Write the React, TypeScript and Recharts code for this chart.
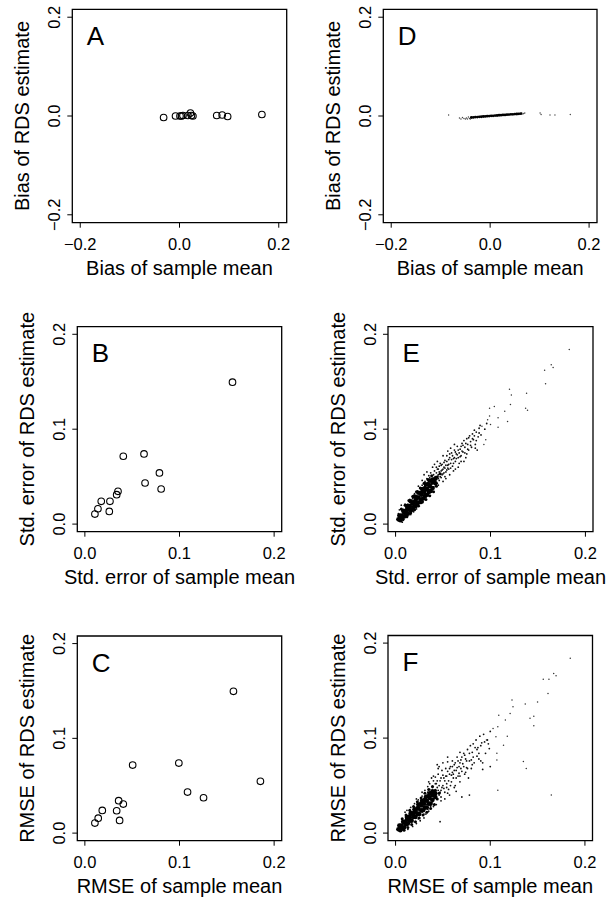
import React from 'react';
import { ScatterChart, Scatter, XAxis, YAxis, ReferenceArea } from 'recharts';

const FONT = "'Liberation Sans', Arial, Helvetica, sans-serif";

// ---------- Panel A: bias (13 networks) ----------
const biasSampleMeanA = [-0.032, -0.008, 0.001, 0.004, 0.007, 0.017, 0.022, 0.024, 0.027, 0.075, 0.086, 0.097, 0.166];
const biasRdsA = [-0.003, 0.0, 0.0, 0.0, 0.001, 0.001, 0.006, 0.001, 0.0, 0.001, 0.002, -0.001, 0.003];

// ---------- Panel B: std. error ----------
const seSampleMeanB = [0.156, 0.0625, 0.0406, 0.0788, 0.0636, 0.0806, 0.035, 0.0336, 0.0265, 0.0173, 0.0258, 0.0138, 0.0106];
const seRdsB = [0.1496, 0.0739, 0.0715, 0.0539, 0.0433, 0.037, 0.0345, 0.031, 0.024, 0.024, 0.0134, 0.0162, 0.0106];

// ---------- Panel C: RMSE ----------
const rmseSampleMeanC = [0.157, 0.0993, 0.0505, 0.1855, 0.1085, 0.1254, 0.0357, 0.0406, 0.0336, 0.0184, 0.0367, 0.0141, 0.0106];
const rmseRdsC = [0.1496, 0.0739, 0.0718, 0.0546, 0.0433, 0.0373, 0.0342, 0.0306, 0.0236, 0.0239, 0.0134, 0.0158, 0.0106];

// ---------- Panel D: bias (many simulated networks) ----------
const dDense: [number, number][] = [
  [-0.038, -0.003], [-0.034, -0.0028], [-0.030, -0.0022], [-0.026, -0.0021], [-0.022, -0.0016], [-0.018, -0.0015],
  [-0.014, -0.001], [-0.010, -0.0009], [-0.006, -0.0004], [-0.002, -0.0002], [0.002, 0.0003], [0.006, 0.0004],
  [0.010, 0.0009], [0.014, 0.001], [0.018, 0.0015], [0.022, 0.0016], [0.026, 0.0021], [0.030, 0.0022],
  [0.034, 0.0027], [0.038, 0.0028], [0.042, 0.0033], [0.046, 0.0034], [0.050, 0.0039], [0.054, 0.004],
  [0.058, 0.0044], [0.062, 0.0047],
];
const dSparse: [number, number][] = [
  [-0.084, 0.002], [-0.062, -0.004], [-0.059, -0.006], [-0.056, -0.003], [-0.053, -0.005], [-0.050, -0.006],
  [-0.048, -0.004], [-0.046, -0.006], [-0.044, -0.002], [-0.042, -0.005], [-0.040, -0.006], [0.064, 0.006],
  [0.066, 0.004], [0.068, 0.005], [0.070, 0.006], [0.101, 0.006], [0.103, 0.003], [0.121, 0.002],
  [0.131, 0.002], [0.162, 0.003],
];

// ---------- Panel E: std. error (many simulated networks) ----------
const eCore: [number, number][] = [
  [0.003, 0.005], [0.006, 0.009], [0.009, 0.012], [0.012, 0.015], [0.015, 0.019], [0.018, 0.022], [0.021, 0.025],
  [0.024, 0.028], [0.027, 0.031], [0.030, 0.034], [0.033, 0.037], [0.036, 0.040], [0.039, 0.044],
  [0.004, 0.009], [0.008, 0.014], [0.012, 0.019], [0.016, 0.024], [0.020, 0.029], [0.024, 0.033], [0.028, 0.037],
  [0.032, 0.042], [0.036, 0.046],
  [0.005, 0.004], [0.009, 0.008], [0.013, 0.011], [0.017, 0.015], [0.021, 0.019], [0.025, 0.023], [0.029, 0.027],
  [0.033, 0.031], [0.037, 0.035],
  [0.005, 0.008], [0.010, 0.013], [0.014, 0.018], [0.019, 0.023], [0.023, 0.028], [0.027, 0.033], [0.031, 0.038],
  [0.035, 0.042], [0.039, 0.047], [0.042, 0.048],
  [0.007, 0.007], [0.011, 0.010], [0.015, 0.015], [0.019, 0.018], [0.023, 0.022], [0.027, 0.026], [0.031, 0.030],
  [0.035, 0.034], [0.039, 0.038], [0.042, 0.043],
];
const eSemi: [number, number][] = [
  [0.006, 0.016], [0.010, 0.020], [0.014, 0.025], [0.018, 0.029], [0.022, 0.034], [0.026, 0.038], [0.030, 0.043],
  [0.034, 0.047], [0.038, 0.051], [0.008, 0.005], [0.012, 0.008], [0.016, 0.012], [0.020, 0.015], [0.024, 0.019],
  [0.028, 0.023], [0.032, 0.026], [0.036, 0.030], [0.040, 0.034], [0.043, 0.040], [0.041, 0.046], [0.044, 0.050],
  [0.047, 0.053],
];
const eMid: [number, number][] = [
  [0.004, 0.015], [0.006, 0.020], [0.003, 0.011], [0.008, 0.004], [0.007, 0.002],
  [0.010, 0.021], [0.012, 0.007], [0.014, 0.024], [0.016, 0.010], [0.018, 0.027], [0.019, 0.013], [0.011, 0.018], [0.015, 0.026],
  [0.020, 0.032], [0.022, 0.016], [0.023, 0.035], [0.025, 0.019], [0.026, 0.038], [0.027, 0.022], [0.028, 0.041],
  [0.029, 0.024], [0.022, 0.030], [0.026, 0.027], [0.030, 0.038],
  [0.031, 0.045], [0.032, 0.028], [0.033, 0.048], [0.034, 0.030], [0.035, 0.051], [0.036, 0.033], [0.037, 0.054],
  [0.038, 0.036], [0.039, 0.048], [0.040, 0.039], [0.031, 0.036], [0.035, 0.043], [0.038, 0.042], [0.033, 0.055],
  [0.041, 0.056], [0.042, 0.040], [0.043, 0.060], [0.044, 0.043], [0.045, 0.052], [0.046, 0.046], [0.047, 0.064],
  [0.048, 0.049], [0.049, 0.057], [0.050, 0.053], [0.042, 0.050], [0.045, 0.058], [0.048, 0.062], [0.044, 0.066], [0.050, 0.045],
  [0.051, 0.060], [0.052, 0.067], [0.053, 0.055], [0.054, 0.072], [0.055, 0.062], [0.056, 0.058], [0.057, 0.070],
  [0.058, 0.064], [0.059, 0.075], [0.060, 0.061], [0.053, 0.048], [0.057, 0.052], [0.055, 0.077],
  [0.061, 0.069], [0.062, 0.078], [0.063, 0.066], [0.064, 0.074], [0.065, 0.082], [0.066, 0.070], [0.067, 0.064],
  [0.068, 0.079], [0.069, 0.072], [0.070, 0.085], [0.063, 0.058], [0.066, 0.060],
  [0.071, 0.076], [0.072, 0.088], [0.073, 0.081], [0.074, 0.070], [0.075, 0.090], [0.076, 0.084], [0.077, 0.078],
  [0.078, 0.093], [0.079, 0.087], [0.080, 0.081], [0.072, 0.066],
  [0.081, 0.095], [0.082, 0.089], [0.083, 0.099], [0.084, 0.084], [0.085, 0.097], [0.087, 0.092], [0.088, 0.101],
  [0.090, 0.094], [0.086, 0.078],
  [0.013, 0.021], [0.017, 0.018], [0.019, 0.030], [0.021, 0.021], [0.023, 0.026], [0.025, 0.033], [0.027, 0.026],
  [0.028, 0.032], [0.030, 0.029], [0.031, 0.041], [0.032, 0.035], [0.034, 0.039], [0.034, 0.044], [0.035, 0.036],
  [0.036, 0.049], [0.037, 0.041], [0.038, 0.046], [0.039, 0.038], [0.040, 0.052], [0.040, 0.044], [0.041, 0.049],
  [0.042, 0.045], [0.043, 0.054], [0.043, 0.047], [0.044, 0.058], [0.045, 0.048], [0.046, 0.055], [0.046, 0.061],
  [0.047, 0.050], [0.048, 0.056], [0.049, 0.052], [0.049, 0.063], [0.050, 0.058], [0.051, 0.054], [0.051, 0.065],
  [0.052, 0.059], [0.053, 0.062], [0.054, 0.057], [0.054, 0.066], [0.055, 0.059], [0.056, 0.068], [0.056, 0.063],
  [0.057, 0.074], [0.058, 0.059], [0.059, 0.068], [0.060, 0.072], [0.061, 0.064], [0.062, 0.070], [0.063, 0.076],
  [0.064, 0.069], [0.065, 0.073], [0.066, 0.078], [0.067, 0.075], [0.068, 0.071], [0.069, 0.082], [0.070, 0.077],
  [0.071, 0.083], [0.073, 0.075], [0.074, 0.085], [0.076, 0.079], [0.077, 0.091], [0.079, 0.083], [0.081, 0.090],
  [0.083, 0.093], [0.085, 0.088], [0.088, 0.096], [0.089, 0.104], [0.094, 0.100], [0.096, 0.106], [0.024, 0.040],
  [0.028, 0.046], [0.030, 0.052], [0.039, 0.060], [0.041, 0.063], [0.050, 0.072], [0.045, 0.041], [0.052, 0.050],
  [0.061, 0.056], [0.069, 0.066], [0.075, 0.074], [0.084, 0.080], [0.058, 0.080], [0.062, 0.084],
];
const eSparse: [number, number][] = [
  [0.091, 0.103], [0.093, 0.084], [0.095, 0.089], [0.097, 0.110], [0.099, 0.114], [0.099, 0.122], [0.100, 0.105],
  [0.104, 0.124], [0.108, 0.112], [0.108, 0.102], [0.115, 0.119], [0.118, 0.108], [0.120, 0.142], [0.121, 0.126],
  [0.122, 0.136], [0.137, 0.122], [0.138, 0.138], [0.139, 0.120], [0.158, 0.148], [0.157, 0.162], [0.164, 0.168],
  [0.166, 0.165], [0.183, 0.184],
];

// ---------- Panel F: RMSE (many simulated networks) ----------
const fCore: [number, number][] = [
  [0.003, 0.004], [0.006, 0.008], [0.009, 0.011], [0.012, 0.014], [0.015, 0.017], [0.018, 0.020], [0.021, 0.023],
  [0.024, 0.026], [0.027, 0.029], [0.030, 0.031], [0.033, 0.034], [0.036, 0.037], [0.039, 0.040],
  [0.004, 0.008], [0.008, 0.012], [0.012, 0.017], [0.016, 0.021], [0.020, 0.025], [0.024, 0.030], [0.028, 0.034],
  [0.032, 0.038], [0.036, 0.042],
  [0.005, 0.003], [0.009, 0.006], [0.013, 0.010], [0.017, 0.013], [0.021, 0.017], [0.025, 0.020], [0.029, 0.024],
  [0.033, 0.027], [0.037, 0.031],
  [0.005, 0.007], [0.010, 0.012], [0.014, 0.016], [0.019, 0.021], [0.023, 0.026], [0.027, 0.031], [0.031, 0.035],
  [0.035, 0.039], [0.039, 0.044], [0.042, 0.042],
  [0.007, 0.005], [0.011, 0.009], [0.015, 0.013], [0.019, 0.017], [0.023, 0.020], [0.027, 0.024], [0.031, 0.027],
  [0.035, 0.031], [0.039, 0.035], [0.042, 0.038],
];
const fSemi: [number, number][] = [
  [0.007, 0.015], [0.011, 0.019], [0.015, 0.024], [0.019, 0.028], [0.023, 0.033], [0.027, 0.037], [0.031, 0.042],
  [0.035, 0.046], [0.039, 0.049], [0.042, 0.045], [0.009, 0.003], [0.013, 0.006], [0.017, 0.009], [0.021, 0.012],
  [0.025, 0.016], [0.029, 0.019], [0.033, 0.022], [0.037, 0.026], [0.041, 0.030], [0.044, 0.036], [0.046, 0.042],
];
const fMid: [number, number][] = [
  [0.010, 0.022], [0.013, 0.004], [0.016, 0.027], [0.018, 0.007], [0.020, 0.031], [0.022, 0.010], [0.024, 0.035],
  [0.026, 0.013], [0.028, 0.039], [0.030, 0.016], [0.012, 0.024], [0.025, 0.030], [0.029, 0.028],
  [0.031, 0.045], [0.032, 0.020], [0.034, 0.049], [0.035, 0.023], [0.036, 0.052], [0.037, 0.028], [0.038, 0.044],
  [0.039, 0.033], [0.040, 0.055], [0.033, 0.040], [0.036, 0.036], [0.038, 0.058],
  [0.041, 0.038], [0.042, 0.059], [0.043, 0.030], [0.044, 0.048], [0.045, 0.062], [0.046, 0.040], [0.047, 0.055],
  [0.048, 0.034], [0.049, 0.066], [0.050, 0.050], [0.043, 0.052], [0.046, 0.070], [0.048, 0.045], [0.044, 0.072], [0.047, 0.012],
  [0.051, 0.058], [0.052, 0.043], [0.053, 0.068], [0.054, 0.052], [0.055, 0.075], [0.056, 0.046], [0.057, 0.062],
  [0.058, 0.070], [0.059, 0.054], [0.060, 0.064], [0.052, 0.036], [0.057, 0.040], [0.054, 0.060], [0.060, 0.076],
  [0.061, 0.058], [0.062, 0.072], [0.063, 0.050], [0.064, 0.066], [0.065, 0.080], [0.066, 0.060], [0.067, 0.070],
  [0.068, 0.054], [0.069, 0.077], [0.070, 0.065], [0.064, 0.044], [0.068, 0.085],
  [0.071, 0.073], [0.072, 0.084], [0.073, 0.062], [0.074, 0.078], [0.075, 0.069], [0.076, 0.088], [0.077, 0.058],
  [0.078, 0.076], [0.079, 0.092], [0.080, 0.068], [0.078, 0.040], [0.070, 0.038],
  [0.081, 0.085], [0.082, 0.094], [0.083, 0.074], [0.085, 0.098], [0.086, 0.081], [0.087, 0.090], [0.089, 0.102],
  [0.090, 0.076], [0.091, 0.095], [0.093, 0.104], [0.092, 0.067], [0.095, 0.084], [0.097, 0.098], [0.100, 0.107],
  [0.099, 0.089], [0.100, 0.070], [0.092, 0.074],
  [0.014, 0.019], [0.017, 0.016], [0.019, 0.024], [0.022, 0.018], [0.024, 0.022], [0.026, 0.031], [0.028, 0.022],
  [0.029, 0.033], [0.031, 0.025], [0.032, 0.036], [0.033, 0.030], [0.034, 0.043], [0.035, 0.032], [0.036, 0.046],
  [0.037, 0.035], [0.038, 0.040], [0.039, 0.048], [0.040, 0.036], [0.041, 0.044], [0.042, 0.052], [0.043, 0.041],
  [0.044, 0.055], [0.045, 0.045], [0.046, 0.050], [0.047, 0.043], [0.048, 0.058], [0.049, 0.048], [0.050, 0.061],
  [0.051, 0.047], [0.052, 0.055], [0.053, 0.060], [0.054, 0.048], [0.055, 0.065], [0.056, 0.055], [0.057, 0.068],
  [0.058, 0.050], [0.059, 0.061], [0.060, 0.070], [0.061, 0.062], [0.062, 0.066], [0.063, 0.074], [0.064, 0.058],
  [0.065, 0.069], [0.066, 0.076], [0.067, 0.063], [0.068, 0.074], [0.069, 0.068], [0.070, 0.080], [0.072, 0.070],
  [0.073, 0.082], [0.075, 0.076], [0.076, 0.068], [0.078, 0.084], [0.080, 0.077], [0.082, 0.080], [0.084, 0.090],
  [0.086, 0.088], [0.088, 0.084], [0.090, 0.092], [0.094, 0.096], [0.098, 0.094], [0.035, 0.054], [0.040, 0.060],
  [0.045, 0.068], [0.050, 0.074], [0.055, 0.080], [0.040, 0.028], [0.048, 0.038], [0.055, 0.042], [0.062, 0.048],
  [0.068, 0.060], [0.074, 0.064], [0.081, 0.072], [0.088, 0.078], [0.024, 0.015], [0.030, 0.020], [0.034, 0.025],
  [0.022, 0.036], [0.028, 0.043],
];
const fSparse: [number, number][] = [
  [0.096, 0.098], [0.103, 0.110], [0.106, 0.1015], [0.107, 0.084], [0.107, 0.077], [0.108, 0.112], [0.109, 0.124],
  [0.108, 0.045], [0.114, 0.0925], [0.116, 0.119], [0.118, 0.102], [0.121, 0.126], [0.123, 0.140], [0.124, 0.133],
  [0.135, 0.0755], [0.138, 0.068], [0.137, 0.136], [0.142, 0.121], [0.146, 0.123], [0.146, 0.113], [0.150, 0.138],
  [0.156, 0.162], [0.161, 0.147], [0.162, 0.162], [0.1645, 0.040], [0.167, 0.168], [0.1695, 0.1656], [0.1845, 0.184],
];

// ---------- axis ticks ----------
const biasTicks = [-0.2, 0, 0.2];
const biasTickLabels = ['\u22120.2', '0.0', '0.2'];
const posTicks = [0, 0.1, 0.2];
const posTickLabels = ['0.0', '0.1', '0.2'];
const biasDomain: [number, number] = [-0.216, 0.216];
const posDomain: [number, number] = [-0.008, 0.208];

const zipXY = (xs: number[], ys: number[]) => xs.map((x, i) => ({ x, y: ys[i] }));
const fromPairs = (p: [number, number][]) => p.map(([x, y]) => ({ x, y }));

type Series = { data: { x: number; y: number }[]; kind: 'open' | 'dot'; r?: number; fill?: string };

type PanelProps = {
  cellX: number; cellY: number; cellH: number;
  box: { l: number; t: number; r: number; b: number };
  domain: [number, number];
  ticks: number[]; tickLabels: string[];
  series: Series[];
};

const YW = 50;
const XH = 50;

const openCircle = (props: any) => (
  <circle cx={props.cx} cy={props.cy} r={3.3} fill="none" stroke="#000" strokeWidth={1.1} />
);
const makeDot = (r: number, fill: string) => (props: any) => (
  <circle cx={props.cx} cy={props.cy} r={r} fill={fill} stroke="none" />
);

function Panel({ cellX, cellY, cellH, box, domain, ticks, tickLabels, series }: PanelProps) {
  const W = 307;
  const margin = {
    left: box.l - cellX - YW,
    top: box.t - cellY,
    right: cellX + W - box.r,
    bottom: cellY + cellH - box.b - XH,
  };
  const bRel = box.b - cellY;
  const lRel = box.l - cellX;
  const labelFor = (v: number) => {
    const i = ticks.findIndex((t) => Math.abs(t - v) < 1e-9);
    return i >= 0 ? tickLabels[i] : String(v);
  };
  const XTick = (p: any) => (
    <text x={p.x} y={bRel + 27.5} textAnchor="middle" fontSize={16.5} fontFamily={FONT} fill="#000">
      {labelFor(p.payload.value)}
    </text>
  );
  const YTick = (p: any) => {
    const x = lRel - 12.3;
    return (
      <text x={x} y={p.y} transform={`rotate(-90 ${x} ${p.y})`} textAnchor="middle" fontSize={16.5} fontFamily={FONT} fill="#000">
        {labelFor(p.payload.value)}
      </text>
    );
  };
  return (
    <div style={{ position: 'absolute', left: cellX, top: cellY, width: W, height: cellH }}>
      <ScatterChart width={W} height={cellH} margin={margin}>
        <XAxis
          dataKey="x" type="number" domain={domain} ticks={ticks} allowDataOverflow
          height={XH} axisLine={false} tickLine={{ stroke: '#000', strokeWidth: 1 }} tickSize={5}
          tick={XTick} interval={0}
        />
        <YAxis
          dataKey="y" type="number" domain={domain} ticks={ticks} allowDataOverflow
          width={YW} axisLine={false} tickLine={{ stroke: '#000', strokeWidth: 1 }} tickSize={5}
          tick={YTick} interval={0}
        />
        {series.map((s, i) => (
          <Scatter
            key={i}
            data={s.data}
            dataKey="y"
            isAnimationActive={false}
            shape={s.kind === 'open' ? openCircle : makeDot(s.r || 1, s.fill || '#000')}
          />
        ))}
        <ReferenceArea
          x1={domain[0]} x2={domain[1]} y1={domain[0]} y2={domain[1]}
          fill="none" fillOpacity={0} stroke="#000" strokeWidth={1.3} strokeOpacity={1} ifOverflow="visible"
        />
      </ScatterChart>
    </div>
  );
}

type TextSpec = { box: { l: number; t: number; r: number; b: number }; xTitle: string; yTitle: string; letter: string };

const boxes = {
  A: { l: 72.3, t: 9.3, r: 286.7, b: 222.7 },
  B: { l: 77.3, t: 326.7, r: 281.7, b: 531.7 },
  C: { l: 77.3, t: 636, r: 281.7, b: 840.7 },
  D: { l: 383.3, t: 9.3, r: 597, b: 222.7 },
  E: { l: 388, t: 326.7, r: 593, b: 531.7 },
  F: { l: 388, t: 635.5, r: 592.5, b: 840.7 },
};

const texts: TextSpec[] = [
  { box: boxes.A, xTitle: 'Bias of sample mean', yTitle: 'Bias of RDS estimate', letter: 'A' },
  { box: boxes.B, xTitle: 'Std. error of sample mean', yTitle: 'Std. error of RDS estimate', letter: 'B' },
  { box: boxes.C, xTitle: 'RMSE of sample mean', yTitle: 'RMSE of RDS estimate', letter: 'C' },
  { box: boxes.D, xTitle: 'Bias of sample mean', yTitle: 'Bias of RDS estimate', letter: 'D' },
  { box: boxes.E, xTitle: 'Std. error of sample mean', yTitle: 'Std. error of RDS estimate', letter: 'E' },
  { box: boxes.F, xTitle: 'RMSE of sample mean', yTitle: 'RMSE of RDS estimate', letter: 'F' },
];

export default function App() {
  const denseStyles = (core: any, semi: any, mid: any, sparse: any): Series[] => [
    { data: sparse, kind: 'dot', r: 0.75, fill: '#333' },
    { data: mid, kind: 'dot', r: 0.9, fill: '#111' },
    { data: semi, kind: 'dot', r: 1.5, fill: '#000' },
    { data: core, kind: 'dot', r: 2.3, fill: '#000' },
  ];
  return (
    <div style={{ position: 'absolute', left: 0, top: 0, width: 614, height: 901, background: '#fff', overflow: 'hidden' }}>
      <Panel cellX={0} cellY={0} cellH={300} box={boxes.A} domain={biasDomain} ticks={biasTicks} tickLabels={biasTickLabels}
        series={[{ data: zipXY(biasSampleMeanA, biasRdsA), kind: 'open' }]} />
      <Panel cellX={0} cellY={300} cellH={300} box={boxes.B} domain={posDomain} ticks={posTicks} tickLabels={posTickLabels}
        series={[{ data: zipXY(seSampleMeanB, seRdsB), kind: 'open' }]} />
      <Panel cellX={0} cellY={600} cellH={301} box={boxes.C} domain={posDomain} ticks={posTicks} tickLabels={posTickLabels}
        series={[{ data: zipXY(rmseSampleMeanC, rmseRdsC), kind: 'open' }]} />
      <Panel cellX={307} cellY={0} cellH={300} box={boxes.D} domain={biasDomain} ticks={biasTicks} tickLabels={biasTickLabels}
        series={[
          { data: fromPairs(dSparse), kind: 'dot', r: 0.7, fill: '#444' },
          { data: fromPairs(dDense), kind: 'dot', r: 1.4, fill: '#000' },
        ]} />
      <Panel cellX={307} cellY={300} cellH={300} box={boxes.E} domain={posDomain} ticks={posTicks} tickLabels={posTickLabels}
        series={denseStyles(fromPairs(eCore), fromPairs(eSemi), fromPairs(eMid), fromPairs(eSparse))} />
      <Panel cellX={307} cellY={600} cellH={301} box={boxes.F} domain={posDomain} ticks={posTicks} tickLabels={posTickLabels}
        series={denseStyles(fromPairs(fCore), fromPairs(fSemi), fromPairs(fMid), fromPairs(fSparse))} />
      <svg width={614} height={901} style={{ position: 'absolute', left: 0, top: 0, pointerEvents: 'none' }}>
        {texts.map((t, i) => {
          const cy = (t.box.t + t.box.b) / 2;
          const yx = t.box.l - 43;
          return (
            <g key={i} fontFamily={FONT} fill="#000">
              <text x={(t.box.l + t.box.r) / 2} y={t.box.b + 52.6} textAnchor="middle" fontSize={20}>{t.xTitle}</text>
              <text x={yx} y={cy} transform={`rotate(-90 ${yx} ${cy})`} textAnchor="middle" fontSize={20}>{t.yTitle}</text>
              <text x={t.box.l + 14.5} y={t.box.t + 35.5} fontSize={26}>{t.letter}</text>
            </g>
          );
        })}
      </svg>
    </div>
  );
}
